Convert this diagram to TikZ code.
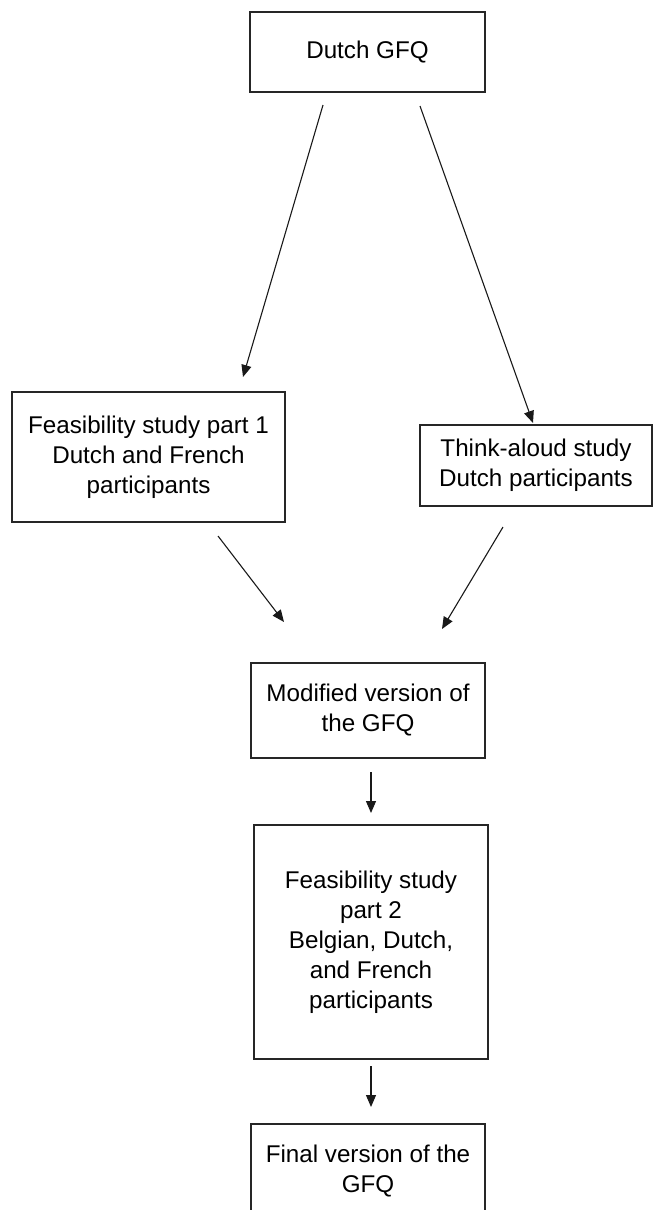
\documentclass[tikz,border=0pt]{standalone}
\usepackage{fontspec}
\setmainfont{Liberation Sans}
\usetikzlibrary{arrows.meta}
\begin{document}
\begin{tikzpicture}[x=1pt,y=-1pt,
  box/.style={draw=black!85,line width=1.4pt,align=center,inner sep=0pt,
    font=\fontsize{24.2}{30}\selectfont},
  conn/.style={draw=black!90,line width=1.1pt,-{Triangle[length=12pt,width=10pt]}}]
\useasboundingbox (0,0) rectangle (653,1210);
\node[box,minimum width=235,minimum height=80] (a) at (367.5,52) {Dutch GFQ};
\node[box,minimum width=273,minimum height=130] (b) at (148.5,457) {Feasibility study part 1\\Dutch and French\\participants};
\node[box,minimum width=232,minimum height=81] (c) at (536,465.5) {Think-aloud study\\Dutch participants};
\node[box,minimum width=234,minimum height=95] (d) at (368,710.5) {Modified version of\\the GFQ};
\node[box,minimum width=234,minimum height=234] (e) at (371,942) {Feasibility study\\part 2\\Belgian, Dutch,\\and French\\participants};
\node[box,minimum width=234,minimum height=94] (f) at (368,1171) {Final version of the\\GFQ};
\coordinate (a1) at (323,105);
\coordinate (b1) at (243,377);
\coordinate (a2) at (420,106);
\coordinate (c1) at (533,423);
\coordinate (b2) at (218,536);
\coordinate (d1) at (284,622);
\coordinate (c2) at (503,527);
\coordinate (d2) at (442,629);
\coordinate (d3) at (371,772);
\coordinate (e1) at (371,813);
\coordinate (e2) at (371,1066);
\coordinate (f1) at (371,1107);
\draw[conn] (a1) -- (b1);
\draw[conn] (a2) -- (c1);
\draw[conn] (b2) -- (d1);
\draw[conn] (c2) -- (d2);
\draw[conn] (d3) -- (e1);
\draw[conn] (e2) -- (f1);
\end{tikzpicture}
\end{document}
